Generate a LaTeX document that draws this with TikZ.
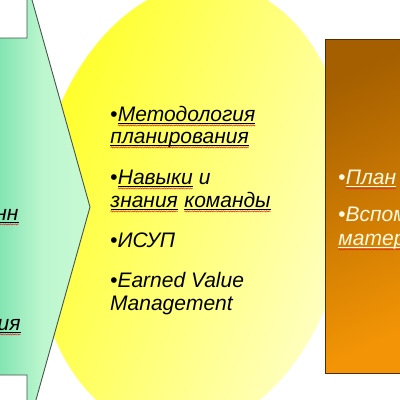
\documentclass[tikz,border=0pt]{standalone}
\usepackage{fontspec}
\setmainfont{Liberation Sans}
\usetikzlibrary{decorations.pathmorphing}
\definecolor{arrowL}{RGB}{125,226,175}
\definecolor{arrowR}{RGB}{200,250,212}
\definecolor{arrowLine}{RGB}{70,85,75}
\definecolor{ellA}{RGB}{255,255,30}
\definecolor{ellB}{RGB}{255,255,205}
\definecolor{boxA}{RGB}{165,95,0}
\definecolor{boxB}{RGB}{242,148,5}
\definecolor{boxLine}{RGB}{80,45,0}
\definecolor{cream}{RGB}{255,250,225}
\definecolor{squig}{RGB}{220,40,40}
\newcommand\sqw[2][black]{\tikz[baseline=(uw.base)]{\node[inner sep=0pt,outer sep=0pt,anchor=base] (uw) {#2};\draw[#1,line width=0.6pt] ([yshift=-2.2pt]uw.base west) -- ([yshift=-2.2pt]uw.base east);\draw[squig,line width=0.5pt,decorate,decoration={snake,amplitude=0.6pt,segment length=2.4pt}] ([yshift=-4.4pt]uw.base west) -- ([yshift=-4.4pt]uw.base east);}}
\tikzset{
  txt/.style={inner sep=0pt,anchor=base west,font=\fontsize{21}{25}\selectfont\itshape},
  crm/.style={txt,text=cream}
}
\begin{document}
\begin{tikzpicture}[x=1pt,y=-1pt]
\useasboundingbox (0,0) rectangle (400,400);
\fill[white] (0,0) rectangle (400,400);
\begin{scope}
\clip (0,0) rectangle (400,400);
% ellipse
\shade[top color=ellA,bottom color=ellB,shading angle=70,rotate around={-8:(192,208)}] (192,208) ellipse[x radius=156,y radius=226];
% left arrow
\draw[arrowLine,line width=0.9pt,left color=arrowL,right color=arrowR,middle color=arrowR!85!arrowL]
  (-5,38) -- (27,38) -- (27,-18) -- (90,207) -- (27,432) -- (27,375) -- (-5,375) -- cycle;
% right box
\draw[boxLine,line width=0.9pt,top color=boxA,bottom color=boxB,shading angle=25] (325,39) rectangle (410,373);
% left fragments
\node[txt,anchor=base east] (l1) at (19,220) {\sqw{нн}};
\node[txt,anchor=base east] (l2) at (21,330) {\sqw{ия}};
% middle text
\node[txt] (m1) at (110,121) {•\sqw{Методология}};
\node[txt] (m2) at (110,143) {\sqw{планирования}};
\node[txt] (m3) at (110,184) {•\sqw{Навыки} и};
\node[txt] (m4) at (110,207) {\sqw{знания} \sqw{команды}};
\node[txt] (m5) at (110,247) {•ИСУП};
\node[txt] (m6) at (110,287) {•Earned Value};
\node[txt] (m7) at (110,310) {Management};
% right text
\node[crm] (r1) at (338,184) {•\sqw[cream]{План}};
\node[crm] (r2) at (338,221) {•Вспом};
\node[crm] (r3) at (338,245) {\sqw[cream]{матер}};
\end{scope}
\end{tikzpicture}
\end{document}
